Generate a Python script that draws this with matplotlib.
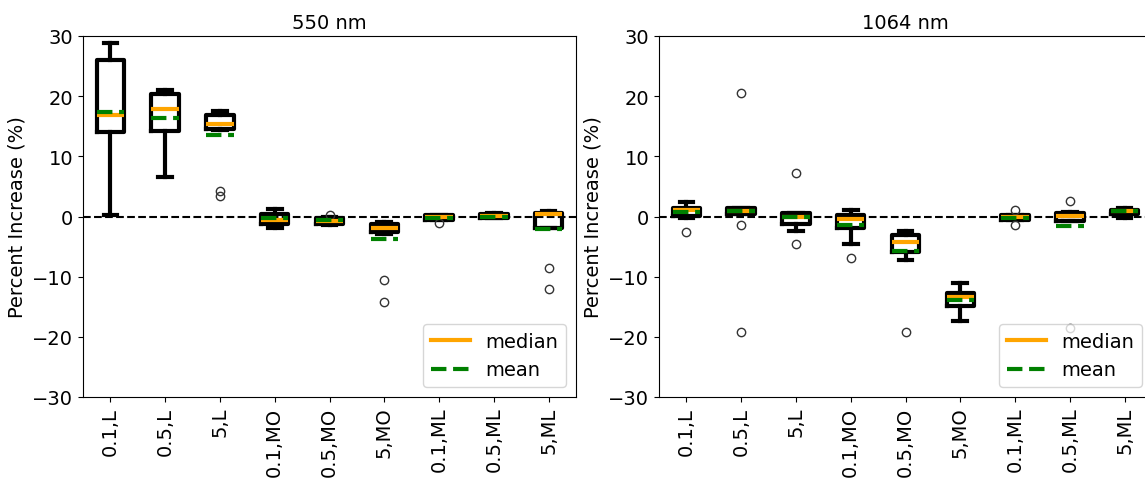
import matplotlib
matplotlib.use('Agg')
import matplotlib.pyplot as plt
from matplotlib.lines import Line2D

plt.rcParams['font.size'] = 14

labels = ['0.1,L', '0.5,L', '5,L', '0.1,MO', '0.5,MO', '5,MO', '0.1,ML', '0.5,ML', '5,ML']

# 550 nm box statistics (percent increase)
whislo_550 = [0.3, 6.5, 14.3, -1.9, -1.4, -2.9, -0.6, -0.3, -1.9]
q1_550 = [14.0, 14.2, 14.5, -1.2, -1.2, -2.6, -0.5, -0.3, -1.9]
med_550 = [16.8, 17.9, 15.4, -0.5, -0.8, -1.9, -0.1, 0.05, 0.35]
q3_550 = [26.0, 20.3, 16.8, 0.35, -0.3, -1.3, 0.2, 0.45, 0.6]
whishi_550 = [28.9, 21.0, 17.5, 1.2, 0.0, -0.95, 0.3, 0.5, 0.9]
mean_550 = [17.4, 16.4, 13.5, -0.3, -0.5, -3.8, -0.2, 0.0, -2.05]
fliers_550 = [[], [], [4.2, 3.4], [], [0.3], [-10.5, -14.2], [-1.1], [], [-8.5, -12.0]]

# 1064 nm box statistics (percent increase)
whislo_1064 = [-0.3, 0.4, -2.35, -4.55, -7.2, -17.3, -0.5, -0.8, -0.3]
q1_1064 = [0.05, 0.45, -1.2, -1.9, -5.9, -14.95, -0.5, -0.8, 0.35]
med_1064 = [1.0, 0.9, -0.1, -0.35, -4.2, -13.3, -0.1, 0.05, 0.9]
q3_1064 = [1.35, 1.35, 0.5, 0.2, -3.0, -12.7, 0.2, 0.6, 1.15]
whishi_1064 = [2.45, 1.45, 0.6, 1.15, -2.45, -11.05, 0.2, 0.7, 1.35]
mean_1064 = [0.8, 0.85, -0.1, -1.35, -5.7, -13.8, -0.2, -1.6, 0.9]
fliers_1064 = [[-2.6], [20.6, -1.4, -19.2], [7.2, -4.5], [-6.9], [-19.2], [], [1.1, -1.4], [2.6, -18.6], []]


def make_stats(whislo, q1, med, q3, whishi, mean, fliers):
    stats = []
    for i in range(len(labels)):
        stats.append(dict(label=labels[i], whislo=whislo[i], q1=q1[i], med=med[i],
                          q3=q3[i], whishi=whishi[i], mean=mean[i], fliers=fliers[i]))
    return stats


def draw(ax, stats, title):
    ax.axhline(0, color='black', linestyle='--', linewidth=1.5, zorder=1)
    lw = 3
    ax.bxp(stats, showmeans=True, meanline=True,
           boxprops=dict(color='black', linewidth=lw),
           whiskerprops=dict(color='black', linewidth=lw),
           capprops=dict(color='black', linewidth=lw),
           medianprops=dict(color='orange', linewidth=lw),
           meanprops=dict(color='green', linestyle='--', linewidth=lw),
           flierprops=dict(marker='o', markeredgecolor='#333333', markerfacecolor='none', markersize=6))
    ax.set_ylim(-30, 30)
    ax.set_xlim(0.5, 9.5)
    ax.set_yticks([-30, -20, -10, 0, 10, 20, 30])
    ax.tick_params(axis='x', labelrotation=90)
    ax.set_ylabel('Percent Increase (%)')
    ax.set_title(title, fontsize=14)
    handles = [Line2D([], [], color='orange', linewidth=lw),
               Line2D([], [], color='green', linestyle='--', linewidth=lw)]
    ax.legend(handles, ['median', 'mean'], loc='lower right')


fig = plt.figure(figsize=(11.45, 4.81), dpi=100)
ax1 = fig.add_axes([83 / 1145, 83 / 481, 493 / 1145, 361 / 481])
ax2 = fig.add_axes([659 / 1145, 83 / 481, 493 / 1145, 361 / 481])

draw(ax1, make_stats(whislo_550, q1_550, med_550, q3_550, whishi_550, mean_550, fliers_550), '550 nm')
draw(ax2, make_stats(whislo_1064, q1_1064, med_1064, q3_1064, whishi_1064, mean_1064, fliers_1064), '1064 nm')

fig.savefig('out.png', dpi=100)
